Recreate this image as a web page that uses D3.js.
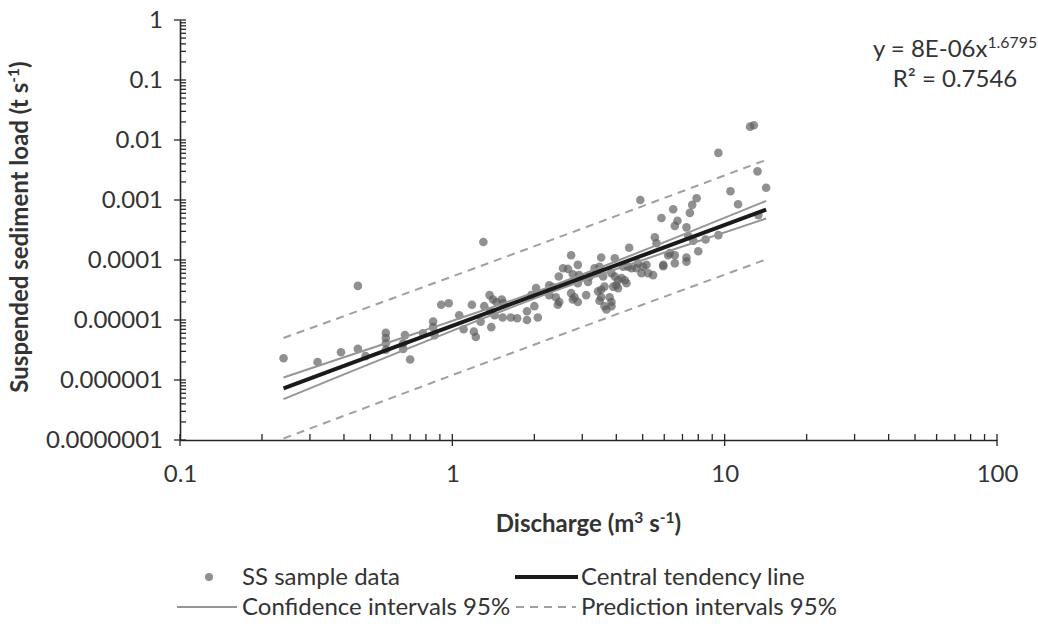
<!DOCTYPE html>
<html>
<head>
<meta charset="utf-8">
<script src="https://cdn.jsdelivr.net/npm/d3@7/dist/d3.min.js"></script>
<style>
  html, body { margin: 0; padding: 0; background: #fff; }
  svg { display: block; font-family: Lato, "Open Sans", sans-serif; }
</style>
</head>
<body>
<svg id="chart" width="1038" height="634"></svg>
<script>
// Suspended sediment samples: discharge (m3/s) and load (t/s)
const discharge = [
  0.24, 0.32, 0.39, 0.45, 0.45, 0.48, 0.57, 0.57, 0.57, 0.57, 0.66, 0.66, 0.67, 0.70, 0.78,
  0.85, 0.85, 0.86, 0.91, 0.97, 1.06, 1.18, 1.10, 1.20, 1.22, 1.27, 1.30, 1.31, 1.37, 1.41,
  1.45, 1.52, 1.54, 1.39, 1.43, 1.53, 1.64, 1.73, 1.88, 1.88, 2.06, 2.00, 2.03, 1.95, 2.27,
  1.38, 2.40, 2.47, 2.44, 2.46, 2.27, 2.34, 2.73, 2.66, 2.77, 2.55, 2.89, 2.92, 2.97, 2.89,
  2.73, 2.77, 2.89, 2.81, 3.10, 3.15, 3.19, 3.38, 3.47, 3.52, 3.43, 3.52, 3.47, 3.58, 3.62,
  3.68, 3.78, 3.84, 3.95, 3.95, 4.06, 4.18, 4.00, 4.06, 3.84, 4.36, 4.24, 4.42, 4.46, 4.55,
  4.81, 5.02, 4.95, 5.24, 5.46, 5.16, 4.74, 4.90, 5.54, 5.62, 5.86, 5.95, 6.20, 6.29, 6.56,
  6.56, 6.47, 6.71, 6.56, 7.24, 7.35, 7.45, 7.60, 7.89, 7.67, 8.00, 7.24, 7.24, 5.95, 8.51,
  9.48, 9.48, 10.5, 11.2, 12.4, 12.8, 13.2, 13.3, 14.2, 4.30, 3.52, 3.84, 3.62, 3.33, 3.90
];
const ssLoad = [
  2.3e-6, 2.0e-6, 2.9e-6, 3.3e-6, 3.7e-5, 2.5e-6, 6.1e-6, 5.0e-6, 4.1e-6, 3.2e-6, 4.1e-6, 3.3e-6, 5.6e-6, 2.2e-6, 6.0e-6,
  9.4e-6, 7.6e-6, 5.6e-6, 1.8e-5, 1.9e-5, 1.2e-5, 1.8e-5, 7.0e-6, 6.4e-6, 5.2e-6, 9.4e-6, 2.0e-4, 1.7e-5, 2.6e-5, 2.2e-5,
  2.0e-5, 2.2e-5, 1.9e-5, 7.6e-6, 1.2e-5, 1.1e-5, 1.1e-5, 1.07e-5, 1.4e-5, 1.0e-5, 1.1e-5, 1.7e-5, 3.4e-5, 2.6e-5, 2.6e-5,
  1.4e-5, 2.4e-5, 2.0e-5, 1.8e-5, 5.3e-5, 3.8e-5, 3.5e-5, 1.2e-4, 7.1e-5, 5.8e-5, 7.3e-5, 8.3e-5, 5.6e-5, 5.0e-5, 4.1e-5,
  2.8e-5, 2.2e-5, 2.0e-5, 2.4e-5, 2.6e-5, 4.3e-5, 5.3e-5, 6.0e-5, 7.7e-5, 1.1e-4, 3.0e-5, 3.2e-5, 2.1e-5, 5.3e-5, 3.6e-5,
  1.5e-5, 2.4e-5, 6.0e-5, 5.3e-5, 1.07e-4, 4.6e-5, 5.0e-5, 3.8e-5, 3.4e-5, 2.0e-5, 4.1e-5, 7.7e-5, 7.7e-5, 1.6e-4, 7.3e-5,
  8.8e-5, 7.7e-5, 6.0e-5, 6.0e-5, 5.6e-5, 8.3e-5, 7.3e-5, 1.0e-3, 2.4e-4, 1.9e-4, 5.0e-4, 8.3e-5, 1.2e-4, 1.3e-4, 8.8e-5,
  1.2e-4, 7.0e-4, 4.5e-4, 3.7e-4, 3.5e-4, 2.5e-4, 6.1e-4, 8.3e-4, 1.07e-3, 2.1e-4, 1.4e-4, 1.1e-4, 9.4e-5, 7.9e-5, 2.2e-4,
  2.6e-4, 6.1e-3, 1.4e-3, 8.5e-4, 0.0167, 0.0176, 3.0e-3, 5.6e-4, 1.6e-3, 4.6e-5, 2.4e-5, 1.7e-5, 1.7e-5, 7.3e-5, 3.6e-5
];

// Rating curve y = a * x^b
const trendCoef = 8e-6;
const trendExp = 1.6795;
const rSquared = 0.7546;

// Discharge values at which the interval bands are given
const bandX   = [0.24, 0.4, 0.7, 1.2, 2.3, 4, 7, 14.2];
const ciUpper = [1.10e-6, 2.39e-6, 5.58e-6, 1.28e-5, 3.64e-5, 9.53e-5, 2.63e-4, 9.67e-4];
const ciLower = [4.81e-7, 1.24e-6, 3.46e-6, 9.23e-6, 2.89e-5, 7.07e-5, 1.68e-4, 4.91e-4];
const piUpper = [5.01e-6, 1.16e-5, 2.94e-5, 7.21e-5, 2.14e-4, 5.43e-4, 1.40e-3, 4.67e-3];
const piLower = [1.06e-7, 2.53e-7, 6.57e-7, 1.64e-6, 4.91e-6, 1.24e-5, 3.15e-5, 1.02e-4];

// Axis ticks
const xMajor = [0.1, 1, 10, 100];
const xTickLabels = ["0.1", "1", "10", "100"];
const yMajor = [1, 0.1, 0.01, 0.001, 0.0001, 0.00001, 0.000001, 0.0000001];
const yTickLabels = ["1", "0.1", "0.01", "0.001", "0.0001", "0.00001", "0.000001", "0.0000001"];

const FONT = 24;
const TEXT = "#333333";
const svg = d3.select("#chart");

const x = d3.scaleLog().domain([0.1, 100]).range([180, 997]);
const y = d3.scaleLog().domain([1e-7, 1]).range([440, 20]);

const axisColor = "#262626";
const isMajor = v => Math.abs(Math.log10(v) - Math.round(Math.log10(v))) < 1e-9;

// ---- axes ----
const axes = svg.append("g");
const xAxis = axes.append("g")
  .attr("transform", `translate(0,${y(1e-7)})`)
  .call(d3.axisBottom(x).tickValues(xMajor).tickFormat((d, i) => xTickLabels[i]).tickSize(0).tickPadding(25));
xAxis.select(".domain").attr("stroke", axisColor).attr("stroke-width", 1.6);
xAxis.selectAll("text").attr("font-size", FONT).attr("fill", TEXT).attr("font-family", "Lato");

const yAxis = axes.append("g")
  .attr("transform", `translate(${x(0.1)},0)`)
  .call(d3.axisLeft(y).tickValues(yMajor).tickFormat((d, i) => yTickLabels[i]).tickSize(0).tickPadding(17));
yAxis.select(".domain").attr("stroke", axisColor).attr("stroke-width", 1.6);
yAxis.selectAll("text").attr("font-size", FONT).attr("fill", TEXT).attr("font-family", "Lato");

// tick marks: major ticks cross the axis, minor ticks point inward
const xTicks = x.ticks();
axes.append("g").selectAll("line").data(xTicks).join("line")
  .attr("x1", d => x(d)).attr("x2", d => x(d))
  .attr("y1", d => y(1e-7) - 6)
  .attr("y2", d => isMajor(d) ? y(1e-7) + 6 : y(1e-7))
  .attr("stroke", axisColor).attr("stroke-width", 1.3);
const yTicks = y.ticks();
axes.append("g").selectAll("line").data(yTicks).join("line")
  .attr("y1", d => y(d)).attr("y2", d => y(d))
  .attr("x1", d => isMajor(d) ? x(0.1) - 6 : x(0.1))
  .attr("x2", d => x(0.1) + 6)
  .attr("stroke", axisColor).attr("stroke-width", 1.3);

// ---- axis titles ----
const xTitle = svg.append("text")
  .attr("x", (x(0.1) + x(100)) / 2).attr("y", 532)
  .attr("text-anchor", "middle").attr("font-size", FONT).attr("font-weight", "bold").attr("fill", TEXT);
xTitle.append("tspan").text("Discharge (m");
xTitle.append("tspan").attr("font-size", FONT * 0.65).attr("baseline-shift", "super").text("3");
xTitle.append("tspan").text(" s");
xTitle.append("tspan").attr("font-size", FONT * 0.65).attr("baseline-shift", "super").text("-1");
xTitle.append("tspan").text(")");

const yTitle = svg.append("text")
  .attr("transform", `translate(28,${(y(1) + y(1e-7)) / 2 - 3}) rotate(-90)`)
  .attr("text-anchor", "middle").attr("font-size", FONT).attr("font-weight", "bold").attr("fill", TEXT);
yTitle.append("tspan").text("Suspended sediment load (t s");
yTitle.append("tspan").attr("font-size", FONT * 0.65).attr("baseline-shift", "super").text("-1");
yTitle.append("tspan").text(")");

// ---- samples ----
const samples = discharge.map((q, i) => ({ q, s: ssLoad[i] }));
svg.append("g").selectAll("circle").data(samples).join("circle")
  .attr("cx", d => x(d.q)).attr("cy", d => y(d.s)).attr("r", 4.3)
  .attr("fill", "#5c5c5c").attr("fill-opacity", 0.68);

// ---- interval bands and central line ----
const curve = d3.line().x(d => x(d[0])).y(d => y(d[1])).curve(d3.curveMonotoneX);
const pair = vals => bandX.map((q, i) => [q, vals[i]]);

[ciUpper, ciLower].forEach(v => svg.append("path").attr("d", curve(pair(v)))
  .attr("fill", "none").attr("stroke", "#959595").attr("stroke-width", 2));
[piUpper, piLower].forEach(v => svg.append("path").attr("d", curve(pair(v)))
  .attr("fill", "none").attr("stroke", "#a0a0a0").attr("stroke-width", 2).attr("stroke-dasharray", "8,6"));

const trend = bandX.map(q => [q, trendCoef * Math.pow(q, trendExp)]);
svg.append("path").attr("d", d3.line().x(d => x(d[0])).y(d => y(d[1]))(trend))
  .attr("fill", "none").attr("stroke", "#1a1a1a").attr("stroke-width", 4);

// ---- equation ----
const eq = svg.append("g").attr("font-size", FONT).attr("fill", TEXT);
const eq1 = eq.append("text").attr("x", 955).attr("y", 57).attr("text-anchor", "middle");
eq1.append("tspan").text("y = 8E-06x");
eq1.append("tspan").attr("font-size", FONT * 0.66).attr("baseline-shift", "super").text(String(trendExp));
eq.append("text").attr("x", 955).attr("y", 87).attr("text-anchor", "middle").text("R\u00B2 = " + rSquared);

// ---- legend ----
const lg = svg.append("g").attr("font-size", FONT).attr("fill", TEXT);
const row1 = 577, row2 = 607;
lg.append("circle").attr("cx", 209).attr("cy", row1).attr("r", 4).attr("fill", "#5c5c5c").attr("fill-opacity", 0.68);
lg.append("text").attr("x", 242).attr("y", row1).attr("dy", "0.35em").text("SS sample data");
lg.append("line").attr("x1", 515).attr("x2", 578).attr("y1", row1).attr("y2", row1).attr("stroke", "#1a1a1a").attr("stroke-width", 4);
lg.append("text").attr("x", 581).attr("y", row1).attr("dy", "0.35em").text("Central tendency line");
lg.append("line").attr("x1", 177).attr("x2", 237).attr("y1", row2).attr("y2", row2).attr("stroke", "#959595").attr("stroke-width", 2);
lg.append("text").attr("x", 242).attr("y", row2).attr("dy", "0.35em").text("Confidence intervals 95%");
lg.append("line").attr("x1", 516).attr("x2", 576).attr("y1", row2).attr("y2", row2).attr("stroke", "#a0a0a0").attr("stroke-width", 2).attr("stroke-dasharray", "8,6");
lg.append("text").attr("x", 581).attr("y", row2).attr("dy", "0.35em").text("Prediction intervals 95%");
</script>
</body>
</html>
